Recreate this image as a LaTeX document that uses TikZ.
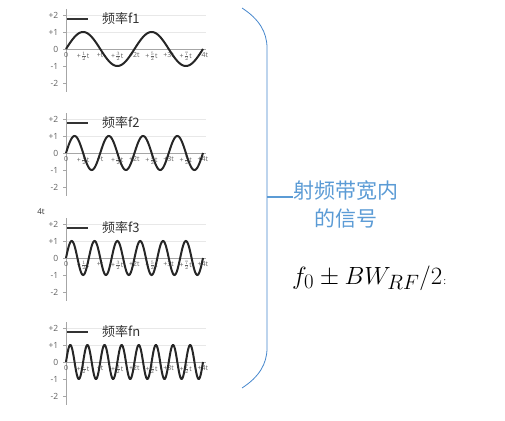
\documentclass[tikz,border=0pt]{standalone}
\usepackage{amsmath}
\usepackage{fontspec}
\setmainfont{Open Sans}
\newfontfamily\cjk{Noto Sans CJK SC}
\usetikzlibrary{calc}
\definecolor{bracecol}{RGB}{68,134,204}
\definecolor{signalcol}{RGB}{91,155,213}
\tikzset{
  axisline/.style={draw=gray!70, line width=0.6pt},
  gridline/.style={draw=gray!18, line width=0.5pt},
  wave/.style={draw=black!85, line width=2pt},
  ylabel/.style={font=\fontsize{8.5}{9}\selectfont, text=gray!75!black, inner sep=0.5pt, anchor=east},
  tlabel/.style={font=\fontsize{7}{8}\selectfont, text=gray!75!black, inner sep=0.3pt, anchor=north},
  legendtext/.style={font=\fontsize{13}{15}\selectfont\cjk, text=black!80, inner sep=0pt, anchor=west},
  signaltext/.style={font=\fontsize{21}{28}\selectfont\cjk, text=signalcol, align=center, inner sep=0pt}
}

\begin{document}
\begin{tikzpicture}[x=1pt,y=-1pt]
\useasboundingbox (0,0) rectangle (505,420);
%plots f1 .. fn
\foreach \z/\n/\f [count=\i] in {49/2/f1, 153/4/f2, 258/6/f3, 362/8/fn}{
  \draw[gridline] (66,\z-17) -- (206,\z-17) (66,\z-34) -- (206,\z-34);
  \draw[axisline] (66,\z-40) -- (66,\z+43);
  \draw[axisline] (66,\z) -- (206,\z);
  \foreach \v/\t [count=\j] in {2/+2,1/+1,0/0,-1/-1,-2/-2}{
    \draw[axisline] (63,\z-17*\v) -- (66,\z-17*\v);
    \path (59,\z-17*\v) node[ylabel] (yl\i\j) {\t};
  }
  \foreach \t [count=\k from 0] in {0,+$\tfrac12$t,+t,+$\tfrac32$t,+2t,+$\tfrac52$t,+3t,+$\tfrac72$t,+4t}
    \path (66+17.1*\k,\z+3) node[tlabel] (xl\i\k) {\t};
  \draw[wave] plot[domain=0:137, samples=241] ({66+\x},{\z-17*sin((360*\n/137)*\x)});
  %legend
  \draw[black!80, line width=1.6pt] (67,\z-30) -- (88,\z-30);
  \path (102,\z-30) node[legendtext] (leg\i) {频率\f};
}
\path (41,212) node[font=\fontsize{8}{9}\selectfont, text=black!80, inner sep=0pt] (cut) {4t};
%brace
\coordinate (btop) at (242,8);
\coordinate (bbot) at (242,388);
\coordinate (bmid) at (267,197);
\coordinate (tip) at (293,197);
\draw[bracecol, line width=0.8pt] (btop) .. controls (259,19) and (267,32) .. (267,48)
  -- (267,348) .. controls (267,364) and (259,377) .. (bbot);
\draw[signalcol, line width=1.2pt] (bmid) -- (tip);
\path (346,204) node[signaltext] (sig) {射频带宽内\\的信号};
\path (292,284) node[anchor=base west, inner sep=0pt] (bw) {\fontsize{31}{34}\selectfont $f_0\pm BW_{RF}/2$};
\path (bw.base east) node[anchor=base west, inner sep=1pt, font=\fontsize{9}{10}\selectfont] (colon) {:};
\end{tikzpicture}
\end{document}
